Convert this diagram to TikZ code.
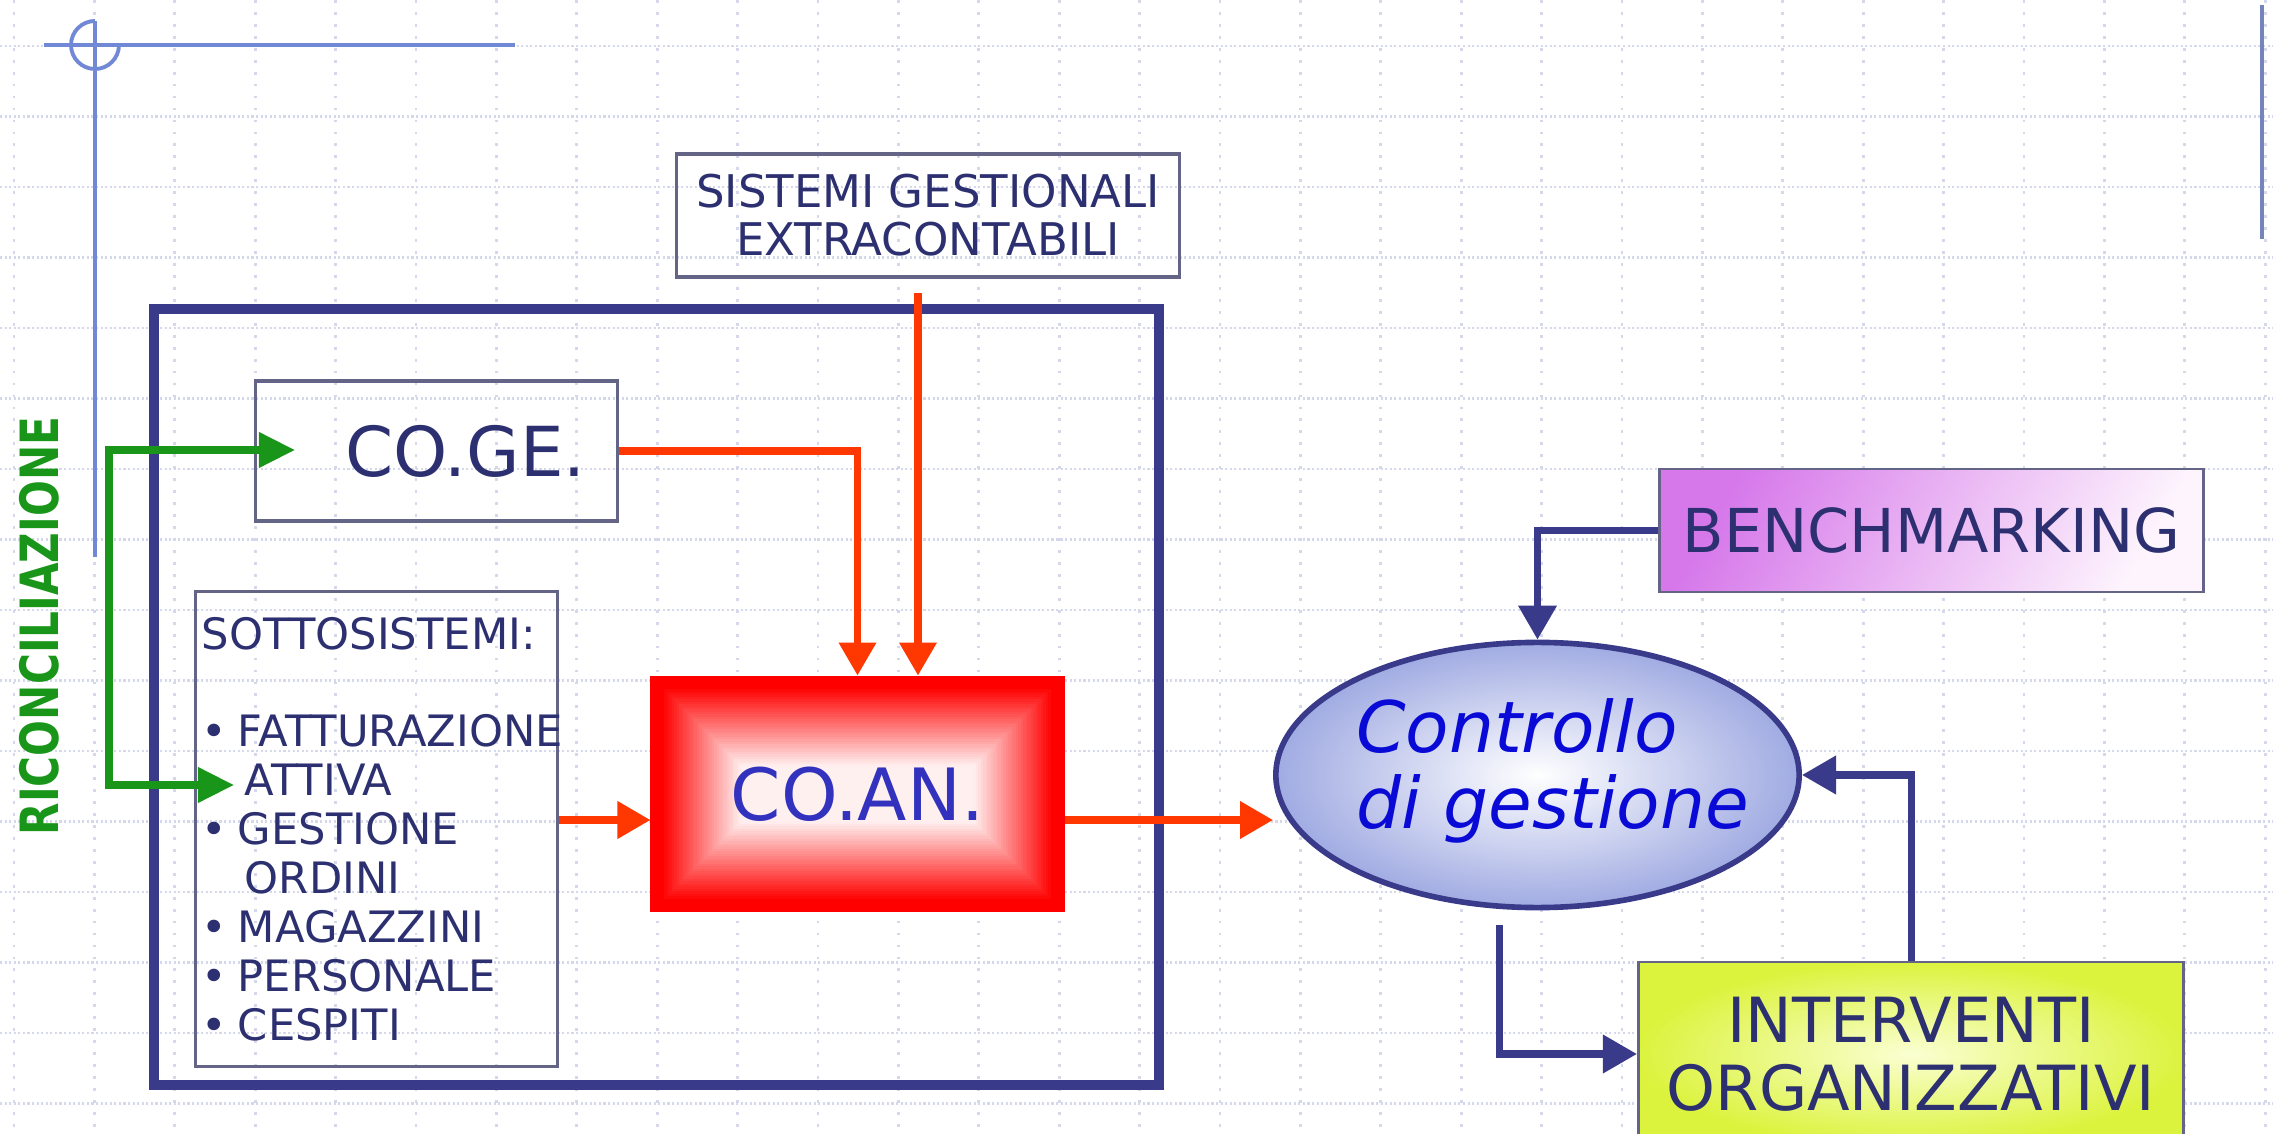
\documentclass[tikz,border=0pt]{standalone}
\usepackage{graphicx}
\usepackage{fontspec}
\setmainfont{DejaVu Sans}
\usetikzlibrary{arrows.meta,shapes.geometric,calc}
\definecolor{navy}{RGB}{58,58,138}
\definecolor{txtnavy}{RGB}{45,48,112}
\definecolor{boxgrey}{RGB}{100,100,135}
\definecolor{arrred}{RGB}{255,55,0}
\definecolor{arrgreen}{RGB}{25,150,25}
\definecolor{gridc}{RGB}{212,216,234}
\definecolor{decoblue}{RGB}{112,136,214}
\definecolor{ellfill}{RGB}{160,171,226}
\definecolor{benchviolet}{RGB}{214,120,234}
\definecolor{benchlight}{RGB}{253,244,253}
\definecolor{intouter}{RGB}{220,243,62}
\definecolor{intinner}{RGB}{250,255,210}
\definecolor{ctrlblue}{RGB}{10,10,215}
\definecolor{coanblue}{RGB}{50,50,190}
\newcommand{\itembul}{\makebox[0.36cm][l]{•}}

\begin{document}
\begin{tikzpicture}[x=0.01cm,y=-0.01cm]

    \tikzset{
      gridh/.style={gridc, line width=0.6pt, dash pattern=on 0.6pt off 0.7pt},
      gridv/.style={gridc, line width=0.8pt, dash pattern=on 0.8pt off 2.6pt},
      deco/.style={decoblue, line width=1.1pt},
      frame/.style={navy, line width=2.6pt},
      plainbox/.style={draw=boxgrey, line width=0.9pt, inner sep=0pt},
      coanbox/.style={
        draw=red, line width=0.8pt, inner sep=0pt,
        path picture={
          \foreach \i in {0,...,45}{
            \pgfmathsetmacro{\pct}{max(6,min(100,112-3*\i))}
            \fill[red!\pct!white] ($(path picture bounding box.north west)+(2.5*\i,2.5*\i)$)
              rectangle ($(path picture bounding box.south east)+(-2.5*\i,-2.5*\i)$);
          }
        },
      },
      redarrow/.style={arrred, line width=2pt, -{Triangle[length=0.33cm,width=0.36cm]}},
      greenarrow/.style={arrgreen, line width=2pt,
        {Triangle[length=0.36cm,width=0.34cm]}-{Triangle[length=0.36cm,width=0.34cm]}},
      bluearrow/.style={navy, line width=2pt, -{Triangle[length=0.34cm,width=0.37cm]}},
    }
    \useasboundingbox (0,0) rectangle (2273,1134);
    \clip (0,0) rectangle (2273,1134);
    \fill[white] (0,0) rectangle (2273,1134);

    \foreach \k in {0,...,15} \draw[gridh] (0,{46+70.5*\k}) -- (2273,{46+70.5*\k});
    \foreach \k in {0,...,28} \draw[gridv] ({14+80.4*\k},0) -- ({14+80.4*\k},1134);

    \draw[deco] (44,45) -- (515,45);
    \draw[deco] (95,21) -- (95,557);
    \draw[deco] (95,21) arc[start angle=-90, end angle=-360, radius=24];
    \draw[deco, draw=decoblue!70!gray] (2262,5) -- (2262,239);

    \draw[frame] (154,309) rectangle (1159,1085);

    \node[plainbox, minimum width=5.02cm, minimum height=1.23cm, align=center,
      font=\fontsize{12.8}{13.7}\selectfont, text=txtnavy] (sis) at (928,215.5)
      {SISTEMI GESTIONALI\\EXTRACONTABILI};
    \node[plainbox, minimum width=3.61cm, minimum height=1.40cm,
      font=\fontsize{19.6}{22}\selectfont, text=txtnavy] (coge) at (436.5,451)
      {\hspace*{0.58cm}CO.GE.};
    \node[plainbox, text width=3.49cm, inner xsep=0.06cm, minimum height=4.74cm, align=left,
      font=\fontsize{12.3}{13.9}\selectfont, text=txtnavy] (sotto) at (376.5,829)
      {SOTTOSISTEMI:\\[13.9pt]
       \itembul FATTURAZIONE\\
       \hspace*{0.43cm}ATTIVA\\
       \itembul GESTIONE\\
       \hspace*{0.43cm}ORDINI\\
       \itembul MAGAZZINI\\
       \itembul PERSONALE\\
       \itembul CESPITI};
    \node[coanbox, minimum width=4.11cm, minimum height=2.34cm,
      font=\fontsize{20.5}{23}\selectfont, text=coanblue] (coan) at (857.5,794) {CO.AN.};
    \node[ellipse, draw=navy, line width=1.6pt, inner color=white, outer color=ellfill,
      inner sep=0pt, minimum width=5.23cm, minimum height=2.65cm,
      font=\fontsize{20.2}{21}\selectfont\itshape, text=ctrlblue] (ctrl) at (1537.5,775)
      {\makebox[3cm][c]{\hspace*{0.3cm}\begin{tabular}{@{}l@{}}Controllo\\di gestione\end{tabular}}};
    \node[draw=boxgrey, line width=0.8pt, top color=benchviolet, bottom color=benchlight,
      shading angle=60, minimum width=5.43cm, minimum height=1.23cm,
      font=\fontsize{17.2}{19}\selectfont, text=txtnavy] (bench) at (1931.5,530.5) {BENCHMARKING};
    \node[draw=boxgrey, line width=0.8pt, inner color=intinner, outer color=intouter,
      minimum width=5.45cm, minimum height=1.84cm, align=center,
      font=\fontsize{17.7}{19.3}\selectfont, text=txtnavy] (interv) at (1911,1054)
      {INTERVENTI\\ORGANIZZATIVI};
    \node[rotate=90, text=arrgreen, font=\fontsize{15}{18}\selectfont\bfseries] (ricon) at (39,626)
      {\scalebox{0.8}[1]{RICONCILIAZIONE}};

    \coordinate (gtop) at (109,450);
    \coordinate (gbot) at (109,785);
    \coordinate (gcoge) at (295,450);
    \coordinate (gatt) at (234,785);
    \draw[greenarrow] (gcoge) -- (gtop) -- (gbot) -- (gatt);

    \coordinate (sisx) at (918,293);
    \coordinate (rowr) at (0,820);
    \draw[redarrow] (coge.east) -| (coan.north);
    \draw[redarrow] (sisx) -- (sisx |- coan.north);
    \draw[redarrow] (sotto.east |- rowr) -- (coan.west |- rowr);
    \draw[redarrow] (coan.east |- rowr) -- (ctrl.west |- rowr);

    \coordinate (cdown) at (1499,925);
    \draw[bluearrow] (bench.west) -| (ctrl.north);
    \draw[bluearrow] (cdown) |- (interv.west);
    \draw[bluearrow] (interv.north) |- (ctrl.east);

\end{tikzpicture}
\end{document}
